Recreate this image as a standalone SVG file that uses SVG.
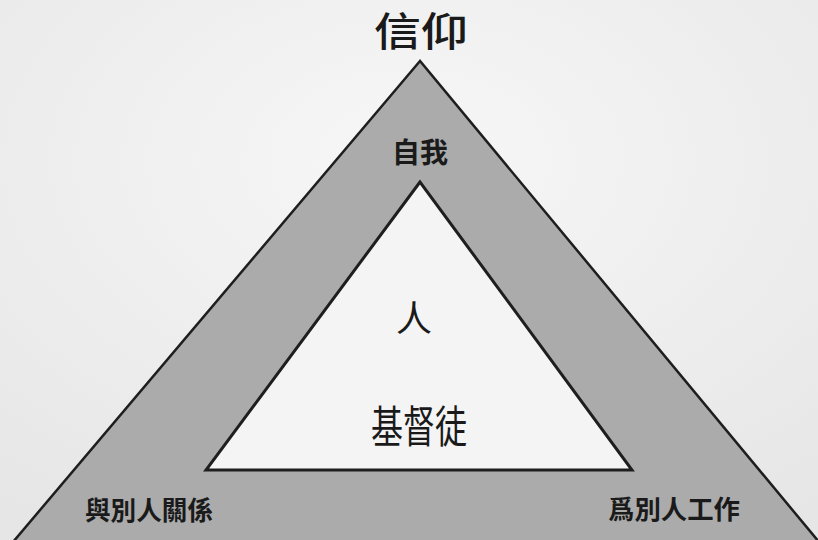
<svg xmlns="http://www.w3.org/2000/svg" width="818" height="540" viewBox="0 0 818 540">
<defs>
<style>
.t{font-family:"Noto Sans CJK TC","Noto Sans CJK SC",sans-serif;text-anchor:middle;fill:#1a1a1a}
.b{font-weight:700}
.tri{stroke:#1e1e1e;stroke-linejoin:miter}
</style>
<radialGradient id="bg" cx="0.5" cy="0.3" r="0.8">
<stop offset="0" stop-color="#f7f7f7"/>
<stop offset="1" stop-color="#e6e6e6"/>
</radialGradient>
</defs>
<rect width="818" height="540" fill="url(#bg)"/>
<g id="outer">
<polygon class="tri" points="420,61 13,542 819,542" fill="#ababab" stroke-width="2.5"/>
</g>
<g id="inner">
<polygon class="tri" points="420,182 206,470 632,470" fill="#f4f4f4" stroke-width="3"/>
</g>
<g id="faith"><text class="t" x="421" y="46" font-size="40" font-weight="500" textLength="94" lengthAdjust="spacingAndGlyphs">信仰</text></g>
<g id="self"><text class="t b" x="420" y="163" font-size="28">自我</text></g>
<g id="person"><text class="t" x="414" y="332" font-size="36">人</text></g>
<g id="christian"><text class="t" x="419" y="443" font-size="44" textLength="96" lengthAdjust="spacingAndGlyphs">基督徒</text></g>
<g id="relations"><text class="t b" x="149" y="520" font-size="26" textLength="128" lengthAdjust="spacingAndGlyphs">與別人關係</text></g>
<g id="work"><text class="t b" x="674" y="519" font-size="26" textLength="132" lengthAdjust="spacingAndGlyphs">爲別人工作</text></g>
<g id="connectors"></g>
</svg>
